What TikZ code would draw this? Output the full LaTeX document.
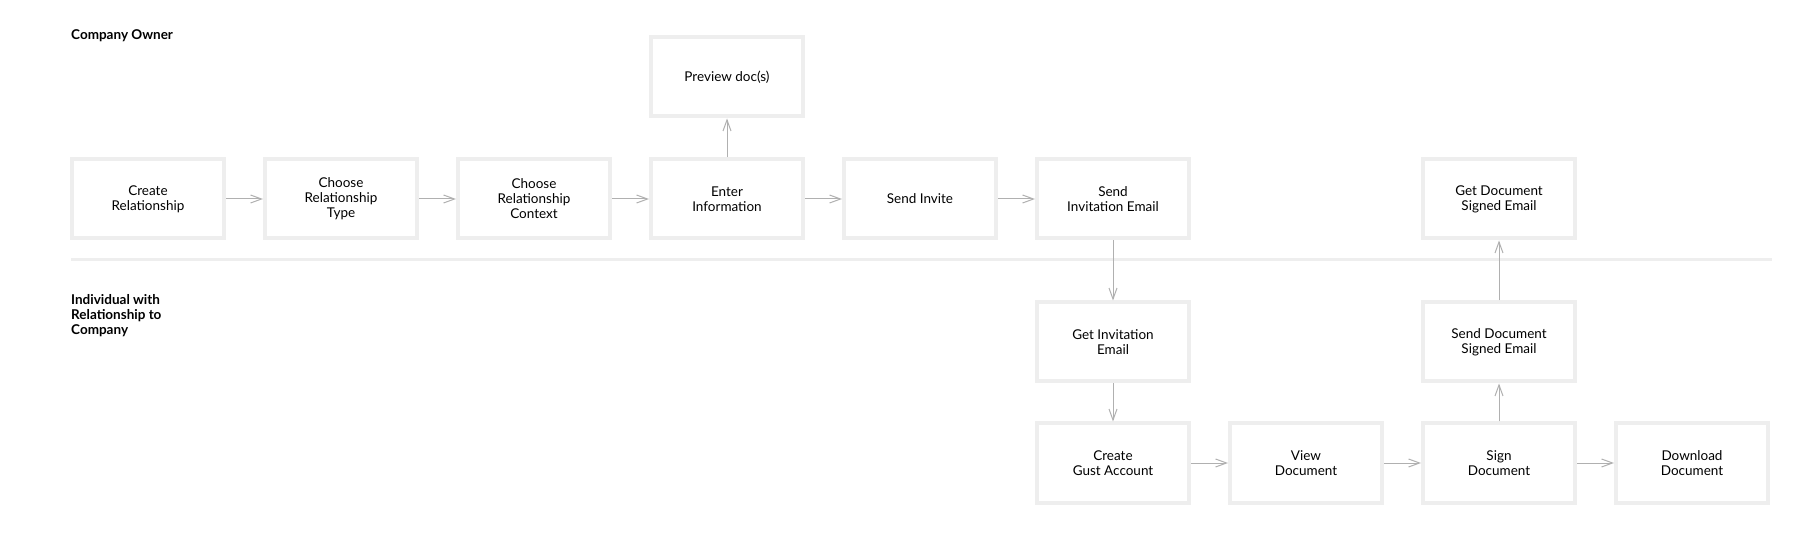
\documentclass[tikz,border=0pt]{standalone}
\usepackage{fontspec}
\setmainfont{Lato}
\usetikzlibrary{arrows.meta,positioning}
\definecolor{boxline}{HTML}{EEEEEE}
\definecolor{flowline}{HTML}{B0B0B0}
\tikzset{
  stepbox/.style={draw=boxline, line width=4pt, minimum width=152pt, minimum height=79pt,
                  align=center, inner sep=0pt, font=\fontsize{13.5}{15}\selectfont},
  lanelabel/.style={anchor=west, align=left, inner sep=0pt, font=\bfseries\fontsize{13.5}{15}\selectfont},
  flow/.style={draw=flowline, line width=1pt, -{Straight Barb[length=11pt,width=8pt]}},
}

\begin{document}
\begin{tikzpicture}[x=1pt, y=-1pt]
    \useasboundingbox (0,0) rectangle (1818,534);
    % lanes
    \node[lanelabel] (owner) at (71,36) {Company Owner};
    \node[lanelabel] (indiv) at (71,316) {Individual with\\Relationship to\\Company};
    \draw[boxline, line width=3pt] (71,260) -- (1772,260);
    % company owner row
    \node[stepbox] (create)   at (148,199)  {Create\\Relationship};
    \node[stepbox] (reltype)  at (341,199)  {Choose\\Relationship\\Type};
    \node[stepbox] (relctx)   at (534,199)  {Choose\\Relationship\\Context};
    \node[stepbox] (enter)    at (727,199)  {Enter\\Information};
    \node[stepbox] (preview)  at (727,77)   {Preview doc(s)};
    \node[stepbox] (invite)   at (920,199)  {Send Invite};
    \node[stepbox] (sendmail) at (1113,199) {Send\\Invitation Email};
    \node[stepbox] (gotsign)  at (1499,199) {Get Document\\Signed Email};
    % individual row
    \node[stepbox] (getmail)  at (1113,342) {Get Invitation\\Email};
    \node[stepbox] (sendsign) at (1499,342) {Send Document\\Signed Email};
    \node[stepbox] (gust)     at (1113,463) {Create\\Gust Account};
    \node[stepbox] (view)     at (1306,463) {View\\Document};
    \node[stepbox] (sign)     at (1499,463) {Sign\\Document};
    \node[stepbox] (download) at (1692,463) {Download\\Document};
    % flow
    \draw[flow] (create) -- (reltype);
    \draw[flow] (reltype) -- (relctx);
    \draw[flow] (relctx) -- (enter);
    \draw[flow] (enter) -- (preview);
    \draw[flow] (enter) -- (invite);
    \draw[flow] (invite) -- (sendmail);
    \draw[flow] (sendmail) -- (getmail);
    \draw[flow] (getmail) -- (gust);
    \draw[flow] (gust) -- (view);
    \draw[flow] (view) -- (sign);
    \draw[flow] (sign) -- (download);
    \draw[flow] (sign) -- (sendsign);
    \draw[flow] (sendsign) -- (gotsign);
\end{tikzpicture}
\end{document}
